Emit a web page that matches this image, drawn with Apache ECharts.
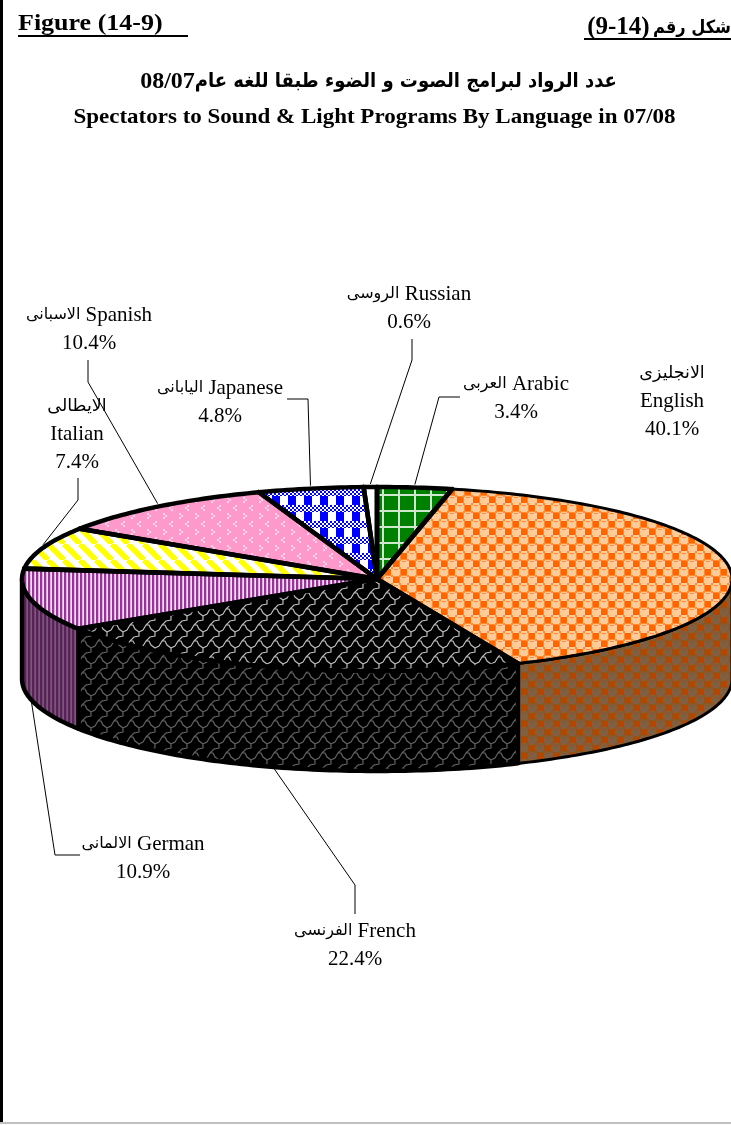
<!DOCTYPE html>
<html>
<head>
<meta charset="utf-8">
<style>html,body{margin:0;padding:0;background:#fff}#c{width:731px;height:1125px}</style>
<script src="https://cdn.jsdelivr.net/npm/echarts@6/dist/echarts.min.js"></script>
</head>
<body>
<div id="c"></div>
<script>
// ---- data ----
var languages = ['Arabic', 'English', 'French', 'German', 'Italian', 'Spanish', 'Japanese', 'Russian'];
var shares = [3.4, 40.1, 22.4, 10.9, 7.4, 10.4, 4.8, 0.6];
var arabicNames = ['العربى', 'الانجليزى', 'الفرنسى', 'الالمانى', 'الايطالى', 'الاسبانى', 'اليابانى', 'الروسى'];
var stackedLabels = [false, true, false, false, true, false, false, false];
var figureLeft = 'Figure (14-9)';
var figureRightNumber = '(9-14)';
var figureRightArabic = 'شكل رقم';
var titleArabicYear = '08/07';
var titleArabic = 'عدد الرواد لبرامج الصوت و الضوء طبقا للغه عام';
var titleEnglish = 'Spectators to Sound & Light Programs By Language in 07/08';

// ---- layout (not data) ----
var CX = 377, CY = 579, RX = 355, RY = 92, DEPTH = 100;
var labelPos = [[516, 398], [672, 401], [355, 945], [143, 858], [77, 434], [89, 329], [220, 402], [409, 308]];
var leaderElbows = [
  [[460, 397], [439, 397]],
  null,
  [[355, 914], [355, 885]],
  [[80, 855], [55, 855]],
  [[78, 478], [78, 500]],
  [[88, 360], [88, 382]],
  [[287, 399], [308, 399]],
  [[412, 339], [412, 360]]
];

// ---- pattern tiles ----
function tile(w, h, draw) {
  var c = document.createElement('canvas');
  c.width = w; c.height = h;
  draw(c.getContext('2d'));
  return { image: c, repeat: 'repeat' };
}
function grid(bg, line) {
  return tile(16, 16, function (g) {
    g.fillStyle = bg; g.fillRect(0, 0, 16, 16);
    g.fillStyle = line; g.fillRect(0, 14, 16, 2); g.fillRect(14, 0, 2, 16);
  });
}
function spheres(dark, light, mid) {
  return tile(16, 16, function (g) {
    g.fillStyle = mid; g.fillRect(0, 0, 16, 16);
    [[4, 4], [12, 12]].forEach(function (p) {
      g.fillStyle = light;
      g.fillRect(p[0] - 5, p[1] - 3, 10, 6);
      g.fillRect(p[0] - 3, p[1] - 5, 6, 10);
      g.fillStyle = mid;
      g.fillRect(p[0] - 2, p[1] - 3, 4, 1);
    });
    g.fillStyle = dark;
    g.fillRect(9, 1, 6, 6); g.fillRect(1, 9, 6, 6);
  });
}
function shingle(bg, line) {
  return tile(16, 16, function (g) {
    g.fillStyle = bg; g.fillRect(0, 0, 16, 16);
    g.strokeStyle = line; g.lineWidth = 1.2;
    g.beginPath();
    [[0, 0], [-16, 0], [0, -16], [-16, -16]].forEach(function (o) {
      var x = o[0], y = o[1];
      g.moveTo(x + 2, y + 1); g.lineTo(x + 5, y + 1); g.lineTo(x + 7, y + 5); g.lineTo(x + 11, y + 8);
      g.moveTo(x + 11, y + 8); g.lineTo(x + 15, y + 6); g.lineTo(x + 18, y + 1);
      g.moveTo(x + 11, y + 8); g.lineTo(x + 11, y + 12); g.lineTo(x + 6, y + 13); g.lineTo(x + 2, y + 17);
    });
    g.stroke();
  });
}
function vstripes(dark, mid, light) {
  return tile(4, 4, function (g) {
    g.fillStyle = dark; g.fillRect(0, 0, 2, 4);
    g.fillStyle = mid; g.fillRect(2, 0, 1, 4);
    g.fillStyle = light; g.fillRect(3, 0, 1, 4);
  });
}
function diagonal(bg, fg) {
  return tile(16, 16, function (g) {
    g.fillStyle = bg; g.fillRect(0, 0, 16, 16);
    g.strokeStyle = fg; g.lineWidth = 5.5;
    g.beginPath();
    for (var i = -16; i <= 32; i += 16) { g.moveTo(i, 0); g.lineTo(i + 16, 16); }
    g.stroke();
  });
}
function chevrons(bg, fg) {
  return tile(16, 16, function (g) {
    g.fillStyle = bg; g.fillRect(0, 0, 16, 16);
    g.fillStyle = fg;
    [[3, 3, 1], [11, 11, -1]].forEach(function (p) {
      var d = p[2];
      g.fillRect(p[0], p[1] - 2, 2, 2);
      g.fillRect(p[0] + 2 * d, p[1], 2, 2);
      g.fillRect(p[0], p[1] + 2, 2, 2);
    });
  });
}
function plaid(blue, white) {
  return tile(16, 16, function (g) {
    g.fillStyle = white; g.fillRect(0, 0, 16, 16);
    g.fillStyle = blue; g.fillRect(0, 0, 8, 9);
    for (var y = 9; y < 16; y += 1) for (var x = 0; x < 16; x += 1) {
      if ((Math.floor(x / 2) + Math.floor((y + 1) / 2)) % 2 === 0) g.fillRect(x, y, 1, 1);
    }
  });
}
var topFills = [
  grid('#008000', '#cfe6cf'),
  spheres('#ff6600', '#ffcc99', '#ff8a33'),
  shingle('#000000', '#bcbcbc'),
  vstripes('#993399', '#d9b3d9', '#f5e6f5'),
  diagonal('#ffffff', '#ffff00'),
  chevrons('#ff99cc', '#ffd6ea'),
  plaid('#0000ff', '#ffffff'),
  '#ffffff'
];
var sideFills = [
  '#000',
  spheres('#b34700', '#806040', '#8f5520'),
  shingle('#000000', '#646464'),
  vstripes('#5c1f5c', '#6b4a6b', '#666666'),
  '#000', '#000', '#000', '#000'
];

// ---- geometry from the data ----
var total = shares.reduce(function (a, b) { return a + b; }, 0);
function startAngle(i) {
  var s = 0;
  for (var k = 0; k < i; k++) s += shares[k];
  return s / total * 360;
}
function pt(deg, dy) {
  var r = deg * Math.PI / 180;
  return [CX + RX * Math.sin(r), CY - RY * Math.cos(r) + (dy || 0)];
}
function arc(a0, a1, dy) {
  var n = Math.max(2, Math.ceil(Math.abs(a1 - a0))), out = [];
  for (var i = 0; i <= n; i++) out.push(pt(a0 + (a1 - a0) * i / n, dy));
  return out;
}
var seriesData = shares.map(function (v, i) { return { name: languages[i], value: [v, i] }; });

function renderTop(params, api) {
  var i = api.value(1), a0 = startAngle(i), a1 = a0 + api.value(0) / total * 360;
  return {
    type: 'polygon',
    shape: { points: [[CX, CY]].concat(arc(a0, a1)) },
    style: { fill: topFills[i] }
  };
}
function renderOutline(params, api) {
  var i = api.value(1), a0 = startAngle(i), a1 = a0 + api.value(0) / total * 360;
  return {
    type: 'group',
    children: [
      { type: 'polyline', shape: { points: arc(a0, a1) },
        style: { fill: null, stroke: '#000', lineWidth: i === 1 ? 3 : 4.4, lineCap: 'round', lineJoin: 'round' } },
      { type: 'polyline', shape: { points: [pt(a0), [CX, CY], pt(a1)] },
        style: { fill: null, stroke: '#000', lineWidth: 4.6, lineCap: 'round', lineJoin: 'round' } }
    ]
  };
}
function renderSide(params, api) {
  var i = api.value(1), a0 = startAngle(i), a1 = a0 + api.value(0) / total * 360;
  var from = Math.max(a0, 90), to = Math.min(a1, 270);
  if (to <= from) return null;
  return {
    type: 'polygon',
    shape: { points: arc(from, to).concat(arc(to, from, DEPTH)) },
    style: { fill: sideFills[i], stroke: '#000', lineWidth: i === 1 ? 3 : 4.4, lineJoin: 'round' }
  };
}
function renderLabel(params, api) {
  var i = api.value(1), a0 = startAngle(i), mid = a0 + api.value(0) / total * 180;
  var kids = [];
  var el = leaderElbows[i];
  if (el) {
    var front = mid > 90 && mid < 270;
    kids.push({
      type: 'polyline',
      shape: { points: el.concat([pt(mid, front ? DEPTH + 1 : -3)]) },
      style: { fill: null, stroke: '#000', lineWidth: 1 }
    });
  }
  var nameLine = stackedLabels[i]
    ? '{c|' + arabicNames[i] + '}\n{b|' + languages[i] + '}'
    : '{a|' + arabicNames[i] + '}{b| ' + languages[i] + '}';
  kids.push({
    type: 'text',
    x: labelPos[i][0], y: labelPos[i][1],
    style: {
      text: nameLine + '\n{b|' + api.value(0).toFixed(1) + '%}',
      fill: '#000', align: 'center', verticalAlign: 'middle',
      rich: {
        a: { fontFamily: '"DejaVu Sans"', fontSize: 16, lineHeight: 28, fill: '#000' },
        c: { fontFamily: '"DejaVu Sans"', fontSize: 17.5, lineHeight: 28, fill: '#000' },
        b: { fontFamily: '"Liberation Serif"', fontSize: 21, lineHeight: 28, fill: '#000' }
      }
    }
  });
  return { type: 'group', children: kids };
}

var chart = echarts.init(document.getElementById('c'), null, { renderer: 'canvas', width: 731, height: 1125 });
chart.setOption({
  animation: false,
  backgroundColor: '#ffffff',
  title: [
    { text: '{n|' + titleArabicYear + '}{a|' + titleArabic + '}', left: 373.5, top: 65, textAlign: 'center',
      textStyle: { rich: {
        n: { fontFamily: '"Liberation Serif"', fontWeight: 'bold', fontSize: 24, color: '#000' },
        a: { fontFamily: '"DejaVu Sans Condensed", "DejaVu Sans"', fontWeight: 'bold', fontSize: 20, color: '#000' }
      } } }
  ],
  graphic: [
    { type: 'rect', shape: { x: 0, y: 0, width: 3, height: 1122 }, style: { fill: '#000' } },
    { type: 'rect', shape: { x: 0, y: 1122, width: 731, height: 2 }, style: { fill: '#c0c0c0' } },
    { type: 'text', x: 18, y: 24, scaleX: 1.13, style: { text: figureLeft, font: 'bold 23px "Liberation Serif"', fill: '#000', verticalAlign: 'middle' } },
    { type: 'rect', shape: { x: 18, y: 35, width: 170, height: 2 }, style: { fill: '#000' } },
    { type: 'text', x: 374.5, y: 117, scaleX: 1.07, style: { text: titleEnglish, font: 'bold 21.5px "Liberation Serif"', fill: '#000', align: 'center', verticalAlign: 'middle' } },
    { type: 'text', x: 731, y: 28, style: {
        text: '{n|' + figureRightNumber + '} {a|' + figureRightArabic + '}',
        align: 'right', verticalAlign: 'middle', fill: '#000',
        rich: {
          n: { fontFamily: '"Liberation Serif"', fontWeight: 'bold', fontSize: 25, fill: '#000' },
          a: { fontFamily: '"DejaVu Sans Condensed", "DejaVu Sans"', fontWeight: 'bold', fontSize: 18, fill: '#000' }
        } } },
    { type: 'rect', shape: { x: 584, y: 38, width: 147, height: 2 }, style: { fill: '#000' } }
  ],
  series: [
    { type: 'custom', coordinateSystem: 'none', z: 2, silent: true, renderItem: renderSide, data: seriesData },
    { type: 'custom', coordinateSystem: 'none', z: 3, silent: true, renderItem: renderTop, data: seriesData },
    { type: 'custom', coordinateSystem: 'none', z: 4, silent: true, renderItem: renderOutline, data: seriesData },
    { type: 'custom', coordinateSystem: 'none', z: 5, silent: true, renderItem: renderLabel, data: seriesData }
  ]
});
</script>
</body>
</html>
